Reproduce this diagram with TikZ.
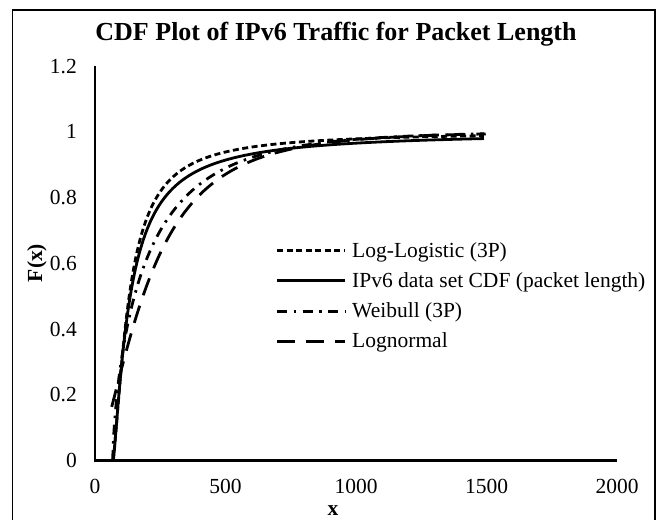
\documentclass[tikz,border=0pt]{standalone}
\usepackage{fontspec}
\setmainfont{Liberation Serif}
\begin{document}
\begin{tikzpicture}[x=1pt,y=-1pt,
  lbl/.style={font=\fontsize{21.5}{24}\selectfont, inner sep=0pt},
  boldlbl/.style={font=\fontsize{21.5}{24}\selectfont\bfseries, inner sep=0pt},
  curve/.style={line width=2.8pt},
  lldash/.style={curve, dash pattern=on 6pt off 3.5pt},
  wbdash/.style={curve, dash pattern=on 10pt off 6.5pt on 2.5pt off 6.5pt},
  lndash/.style={curve, dash pattern=on 18pt off 11pt},
  axisline/.style={line width=2.2pt},
  declare function={
    loglog(\t,\g,\b,\a)=pow(max(\t-\g,0.01)/\b,\a)/(1+pow(max(\t-\g,0.01)/\b,\a));
    weib(\t,\g,\b,\a)=1-exp(-pow(max(\t-\g,0.01)/\b,\a));
    phiapp(\z)=1/(1+exp(-(0.07056*\z*\z*\z+1.5976*\z)));
    lnorm(\t,\g,\m,\sg)=phiapp((ln(\t-\g)-\m)/\sg);
  }]
\useasboundingbox (0,0) rectangle (663,519);
\clip (0,0) rectangle (663,519);
% frame
\draw[line width=1.8pt] (12.5,530) -- (12.5,10) -- (655,10) -- (655,530);
% title
\node[font=\fontsize{26}{30}\selectfont\bfseries, anchor=base, inner sep=0pt] (title) at (336,41) {CDF Plot of IPv6 Traffic for Packet Length};
% axes
\coordinate (ytop) at (95,66);
\coordinate (orig) at (95,460.5);
\coordinate (xend) at (617,460.5);
\draw[axisline] (ytop) -- (orig) -- (xend);
% y tick labels
\node[lbl, anchor=base east] (y0) at (77,467.5) {0};
\node[lbl, anchor=base east] (y2) at (77,401.75) {0.2};
\node[lbl, anchor=base east] (y4) at (77,336) {0.4};
\node[lbl, anchor=base east] (y6) at (77,270.25) {0.6};
\node[lbl, anchor=base east] (y8) at (77,204.5) {0.8};
\node[lbl, anchor=base east] (y10) at (77,138.75) {1};
\node[lbl, anchor=base east] (y12) at (77,73) {1.2};
% x tick labels
\node[lbl, anchor=base] (x0) at (95,493) {0};
\node[lbl, anchor=base] (x500) at (225.5,493) {500};
\node[lbl, anchor=base] (x1000) at (356,493) {1000};
\node[lbl, anchor=base] (x1500) at (486.5,493) {1500};
\node[lbl, anchor=base] (x2000) at (617,493) {2000};
% axis titles
\node[boldlbl, anchor=base] (xlab) at (333,515) {x};
\node[boldlbl, rotate=90] (ylab) at (37,263) {F(x)};
% curves
\begin{scope}[shift={(95,460.5)}, x=0.261pt, y=328.75pt]
  \draw[lldash] plot[domain=0.02:1, samples=160, variable=\s]
    ({68+1432*\s*\s*\s}, {loglog(68+1432*\s*\s*\s,68,63,1.415)});
  \draw[wbdash] plot[domain=0.02:1, samples=160, variable=\s]
    ({68+1432*\s*\s*\s}, {weib(68+1432*\s*\s*\s,68,140,0.7)});
  \draw[lndash] plot[domain=0:1, samples=140, variable=\s]
    ({64+1436*\s*\s}, {lnorm(64+1436*\s*\s,-40,5.41,0.78)});
  \draw[curve] plot[domain=0.02:1, samples=160, variable=\s]
    ({70+1430*\s*\s*\s}, {loglog(70+1430*\s*\s*\s,70,65,1.25)});
\end{scope}
% legend
\coordinate (la1) at (277,250.5); \coordinate (lb1) at (345,250.5);
\coordinate (la2) at (277,280.8); \coordinate (lb2) at (345,280.8);
\coordinate (la3) at (277,311.1); \coordinate (lb3) at (345,311.1);
\coordinate (la4) at (277,341.4); \coordinate (lb4) at (345,341.4);
\draw[lldash] (la1) -- (lb1);
\draw[curve] (la2) -- (lb2);
\draw[wbdash] (la3) -- (lb3);
\draw[lndash] (la4) -- (lb4);
\node[lbl, anchor=base west] (leg1) at (352,257) {Log-Logistic (3P)};
\node[lbl, anchor=base west] (leg2) at (352,287.3) {IPv6 data set CDF (packet length)};
\node[lbl, anchor=base west] (leg3) at (352,317.6) {Weibull (3P)};
\node[lbl, anchor=base west] (leg4) at (352,347.9) {Lognormal};
\end{tikzpicture}
\end{document}
